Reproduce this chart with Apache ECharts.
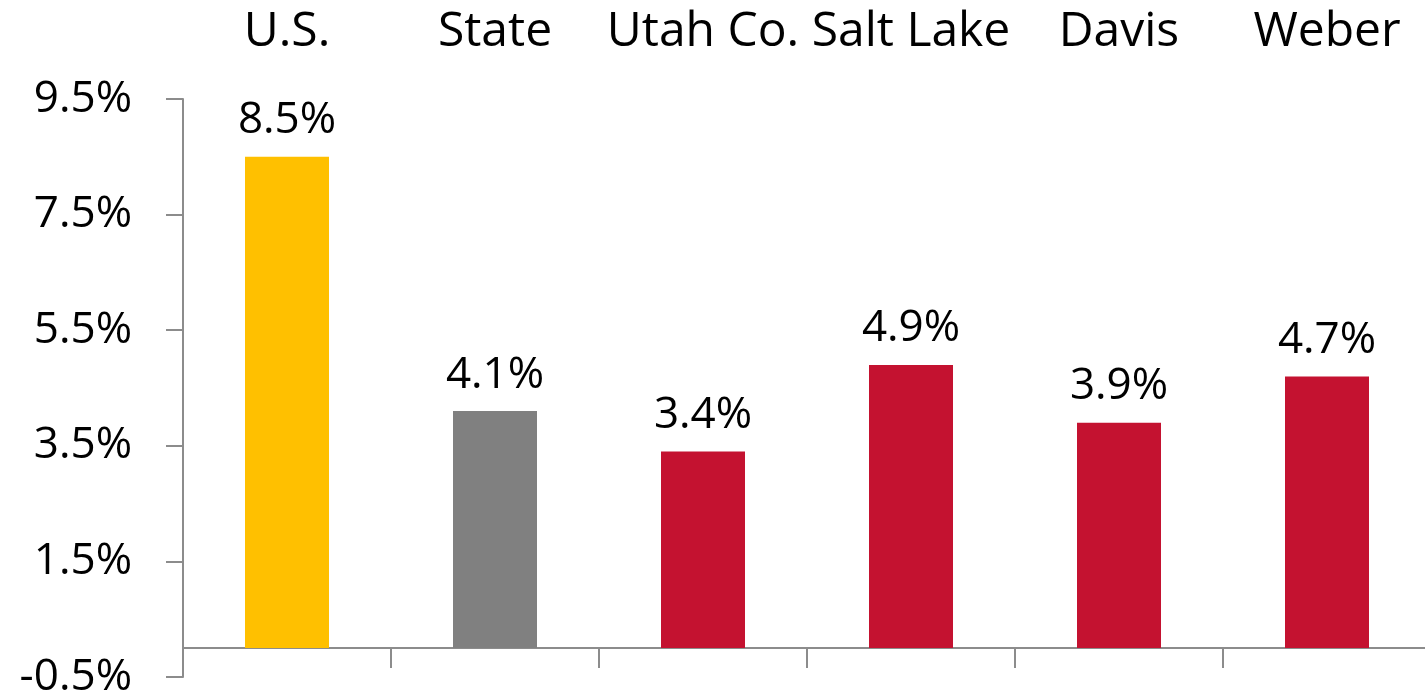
<!DOCTYPE html>
<html>
<head>
<meta charset="utf-8">
<script src="https://cdn.jsdelivr.net/npm/echarts@6/dist/echarts.min.js"></script>
<style>
  html, body { margin: 0; padding: 0; background: #fff; }
  #chart { width: 1425px; height: 698px; }
</style>
</head>
<body>
<div id="chart"></div>
<script>
// categories and values
const categories = ['U.S.', 'State', 'Utah Co.', 'Salt Lake', 'Davis', 'Weber']
const rates = [8.5, 4.1, 3.4, 4.9, 3.9, 4.7]
const barColors = ['#FFC000', '#808080', '#C41230', '#C41230', '#C41230', '#C41230']

const yMin = -0.5
const yMax = 9.5
const yStep = 2

const axisGray = '#8c8c8c'
const font = '"Open Sans", "Noto Sans", sans-serif'

const chart = echarts.init(document.getElementById('chart'))

chart.setOption({
    animation: false,
    grid: {
        left: 183,
        width: 1248,
        top: 99,
        bottom: 21,
        outerBoundsMode: 'none',
        containLabel: false
    },
    xAxis: [{
        type: 'category',
        data: categories,
        position: 'bottom',
        axisLine: {
            onZero: true,
            lineStyle: { color: axisGray, width: 2 }
        },
        axisTick: {
            show: true,
            length: 20,
            lineStyle: { color: axisGray, width: 2 }
        },
        axisLabel: { show: false }
    }, {
        type: 'category',
        data: categories,
        position: 'top',
        axisLine: { show: false },
        axisTick: { show: false },
        axisLabel: {
            interval: 0,
            hideOverlap: false,
            margin: 43,
            color: '#000',
            fontSize: 48,
            fontFamily: font
        }
    }],
    yAxis: {
        type: 'value',
        min: yMin,
        max: yMax,
        interval: yStep,
        splitLine: { show: false },
        axisLine: {
            show: true,
            lineStyle: { color: axisGray, width: 2 }
        },
        axisTick: {
            show: true,
            length: 17,
            lineStyle: { color: axisGray, width: 2 }
        },
        axisLabel: {
            margin: 51,
            color: '#000',
            fontSize: 44,
            fontFamily: font,
            formatter: v => v.toFixed(1) + '%'
        }
    },
    series: [{
        type: 'bar',
        xAxisIndex: 0,
        barWidth: 84,
        data: rates.map((v, i) => ({
            value: v,
            itemStyle: { color: barColors[i] }
        })),
        label: {
            show: true,
            position: 'top',
            distance: 14,
            color: '#000',
            fontSize: 44,
            fontFamily: font,
            formatter: p => p.value.toFixed(1) + '%'
        }
    }]
})
</script>
</body>
</html>
